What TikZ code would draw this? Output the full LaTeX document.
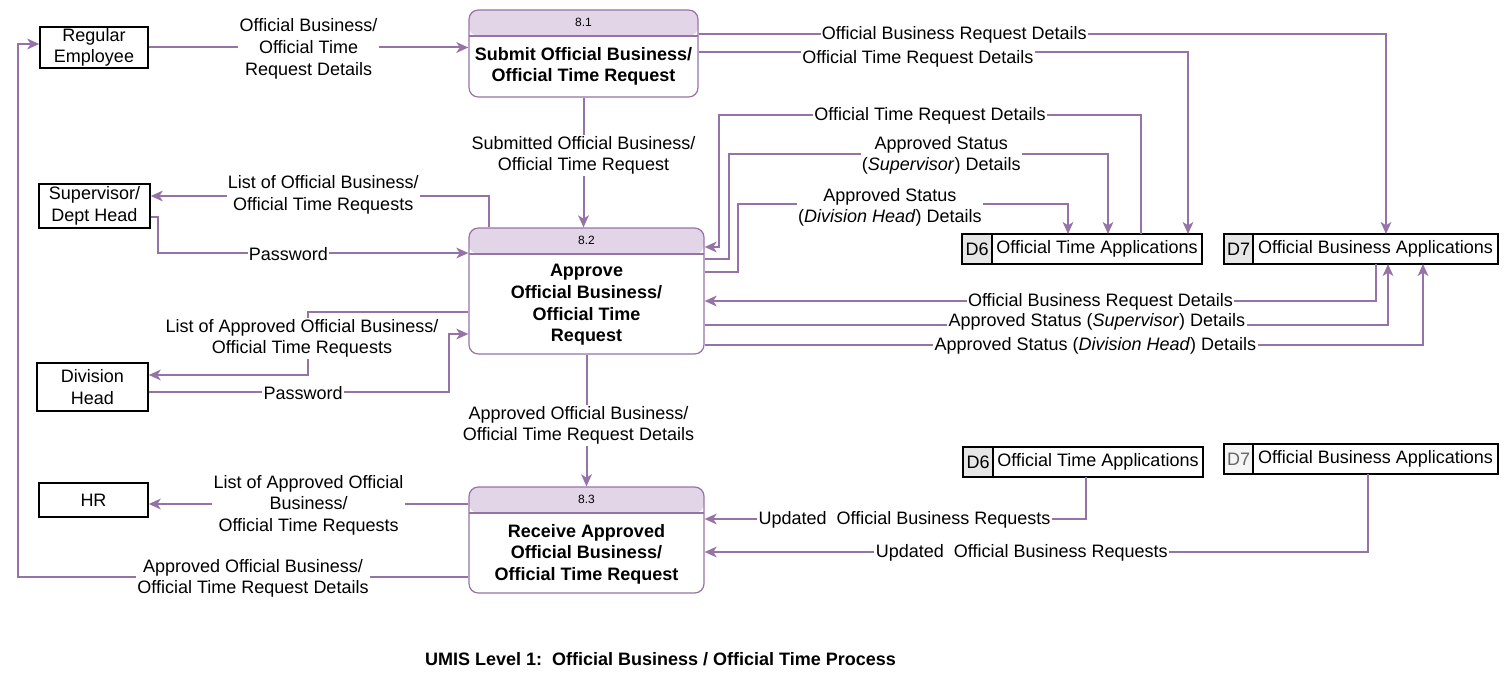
\documentclass[tikz,border=0pt]{standalone}
\usepackage{fontspec}
\setmainfont{Liberation Sans}
\usetikzlibrary{positioning}
\usetikzlibrary{arrows.meta}
\definecolor{purp}{HTML}{9673A6}
\definecolor{hdr}{HTML}{E1D5E7}
\definecolor{idgray}{HTML}{E6E6E6}
\definecolor{idlight}{HTML}{F5F5F5}
\newcommand{\dfdfont}{\fontsize{13.5pt}{16.2pt}\selectfont}

\begin{document}
\begin{tikzpicture}[x=0.75pt, y=-0.75pt,
    entity/.style={draw, line width=1.1pt, align=center, font=\dfdfont, inner sep=0pt},
    proc/.style={draw=purp, line width=0.9pt, rounded corners=7pt, fill=white,
      path picture={
        \fill[hdr] (path picture bounding box.north west) rectangle ([yshift=-19.5pt]path picture bounding box.north east);
        \draw[purp, line width=0.9pt] ([yshift=-19.5pt]path picture bounding box.north west) -- ([yshift=-19.5pt]path picture bounding box.north east);
      }},
    procno/.style={font=\fontsize{9pt}{11pt}\selectfont, inner sep=0pt, minimum height=19.5pt},
    proctitle/.style={font=\dfdfont\bfseries, align=center, inner sep=0pt},
    storeid/.style={draw, line width=1.1pt, fill=idgray, font=\dfdfont, minimum height=22.5pt, inner sep=0pt, outer sep=0pt},
    storename/.style={draw, line width=1.1pt, font=\dfdfont, minimum height=22.5pt, inner sep=0pt, outer sep=0pt},
    flow/.style={draw=purp, line width=1.5pt, -{Stealth[length=9pt, width=8pt, inset=2.5pt]}},
    lbl/.style={fill=white, font=\dfdfont, align=center, inner sep=1pt, text=black, yshift=-1pt}]

    \useasboundingbox (0,0) rectangle (1509,685);

    % external entities
    \node[entity, minimum width=81pt, minimum height=30.75pt] (re) at (94,47.5) {Regular\\Employee};
    \node[entity, minimum width=83.25pt, minimum height=33pt] (sup) at (94.5,206) {Supervisor/\\Dept Head};
    \node[entity, minimum width=83.25pt, minimum height=36pt] (dh) at (92.5,387) {Division\\Head};
    \node[entity, minimum width=81.75pt, minimum height=25.5pt] (hr) at (93.5,500) {HR};

    % processes
    \node[proc, minimum width=171.75pt, minimum height=65.25pt] (p1) at (583.5,53.5) {};
    \node[procno, below=0pt of p1.north] (p1no) {8.1};
    \node[proctitle] (p1txt) at (583.5,66.5) {Submit Official Business/\\Official Time Request};

    \node[proc, minimum width=176.25pt, minimum height=94.5pt] (p2) at (586.5,291) {};
    \node[procno, below=0pt of p2.north] (p2no) {8.2};
    \node[proctitle] (p2txt) at (586.5,305) {Approve\\Official Business/\\Official Time\\Request};

    \node[proc, minimum width=176.25pt, minimum height=79.5pt] (p3) at (586.5,540) {};
    \node[procno, below=0pt of p3.north] (p3no) {8.3};
    \node[proctitle] (p3txt) at (586.5,554) {Receive Approved\\Official Business/\\Official Time Request};

    % data stores
    \node[storeid, minimum width=22.5pt] (d6id) at (977,249) {D6};
    \node[storename, minimum width=157.5pt, right=0pt of d6id] (d6) {Official Time Applications};
    \node[storeid, minimum width=21.75pt] (d7id) at (1238.5,249) {D7};
    \node[storename, minimum width=183.75pt, right=0pt of d7id] (d7) {Official Business Applications};

    \node[storeid, minimum width=22.5pt] (d6bid) at (978,462) {D6};
    \node[storename, minimum width=157.5pt, right=0pt of d6bid] (d6b) {Official Time Applications};
    \node[storeid, minimum width=21.75pt, fill=idlight, text=black!60] (d7bid) at (1238.5,459) {D7};
    \node[storename, minimum width=183.75pt, right=0pt of d7bid] (d7b) {Official Business Applications};

    % flows of 8.1
    \draw[flow] (re.east) -- (p1.west |- re.east)
      node[lbl, midway] (f1) {Official Business/\\Official Time\\Request Details};
    \draw[flow] (p1.east |- 0,34) -| (1386,0 |- d7.north)
      node[lbl, pos=0.186] (f2) {Official Business Request Details};
    \draw[flow] (p1.east |- 0,52) -| (1188,0 |- d6.north)
      node[lbl, pos=0.224, yshift=-4pt] (f3) {Official Time Request Details};
    \draw[flow] (p1.south) -- (p1.south |- p2.north)
      node[lbl, pos=0.435] (f4) {Submitted Official Business/\\Official Time Request};

    % flows of 8.2
    \draw[flow] (489,0 |- p2.north) |- (sup.east |- 0,196)
      node[lbl, pos=0.745, yshift=2pt] (f5) {List of Official Business/\\Official Time Requests};
    \draw[flow] (sup.east |- 0,217) -| (158,253) -- (p2.west |- 0,253)
      node[lbl, pos=0.42] (f6) {Password};
    \draw[flow] (p2.west |- 0,312) -| (308,375) -- (dh.east |- 0,375);
    \node[lbl] (f7) at (302,337) {List of Approved Official Business/\\Official Time Requests};
    \draw[flow] (dh.east |- 0,392) -| (449,334) node[lbl, pos=0.257] (f8) {Password}
      -- (p2.west |- 0,334);
    \draw[flow] (1141,0 |- d6.north) |- (719,115) node[lbl, pos=0.75] (f9) {Official Time Request Details}
      |- (p2.east |- 0,247);
    \draw[flow] (p2.east |- 0,259) -| (729,154) -| (1108,0 |- d6.north)
      node[lbl, pos=0.28] (f10) {Approved Status\\(\textit{Supervisor}) Details};
    \draw[flow] (p2.east |- 0,272) -| (738,204) -| (1068,0 |- d6.north)
      node[lbl, pos=0.23, yshift=-1.5pt] (f11) {Approved Status\\(\textit{Division Head}) Details};
    \draw[flow] (d7.south) |- (p2.east |- 0,301)
      node[lbl, pos=0.705] (f12) {Official Business Request Details};
    \draw[flow] (p2.east |- 0,325) -| (1388,0 |- d7.south)
      node[lbl, pos=0.287, yshift=3pt] (f13) {Approved Status (\textit{Supervisor}) Details};
    \draw[flow] (p2.east |- 0,345) -| (1423,0 |- d7.south)
      node[lbl, pos=0.272] (f14) {Approved Status (\textit{Division Head}) Details};
    \draw[flow] (p2.south) -- (p2.south |- p3.north)
      node[lbl, pos=0.526, xshift=-6pt] (f15) {Approved Official Business/\\Official Time Request Details};

    % flows of 8.3
    \draw[flow] (1086,0 |- d6b.south) |- (p3.east |- 0,519)
      node[lbl, pos=0.738] (f16) {Updated\ \ Official Business Requests};
    \draw[flow] (1368,0 |- d7b.south) |- (p3.east |- 0,552)
      node[lbl, pos=0.761] (f17) {Updated\ \ Official Business Requests};
    \draw[flow] (p3.west |- 0,504) -- (hr.east |- 0,504)
      node[lbl, midway] (f18) {List of Approved Official\\Business/\\Official Time Requests};
    \draw[flow] (p3.west |- 0,577) -| (18,44) -- (re.west |- 0,44);
    \node[lbl] (f19) at (253,577) {Approved Official Business/\\Official Time Request Details};

    % title
    \node[font=\dfdfont\bfseries] (title) at (660.5,659) {UMIS Level 1:\ \ Official Business / Official Time Process};
\end{tikzpicture}
\end{document}
